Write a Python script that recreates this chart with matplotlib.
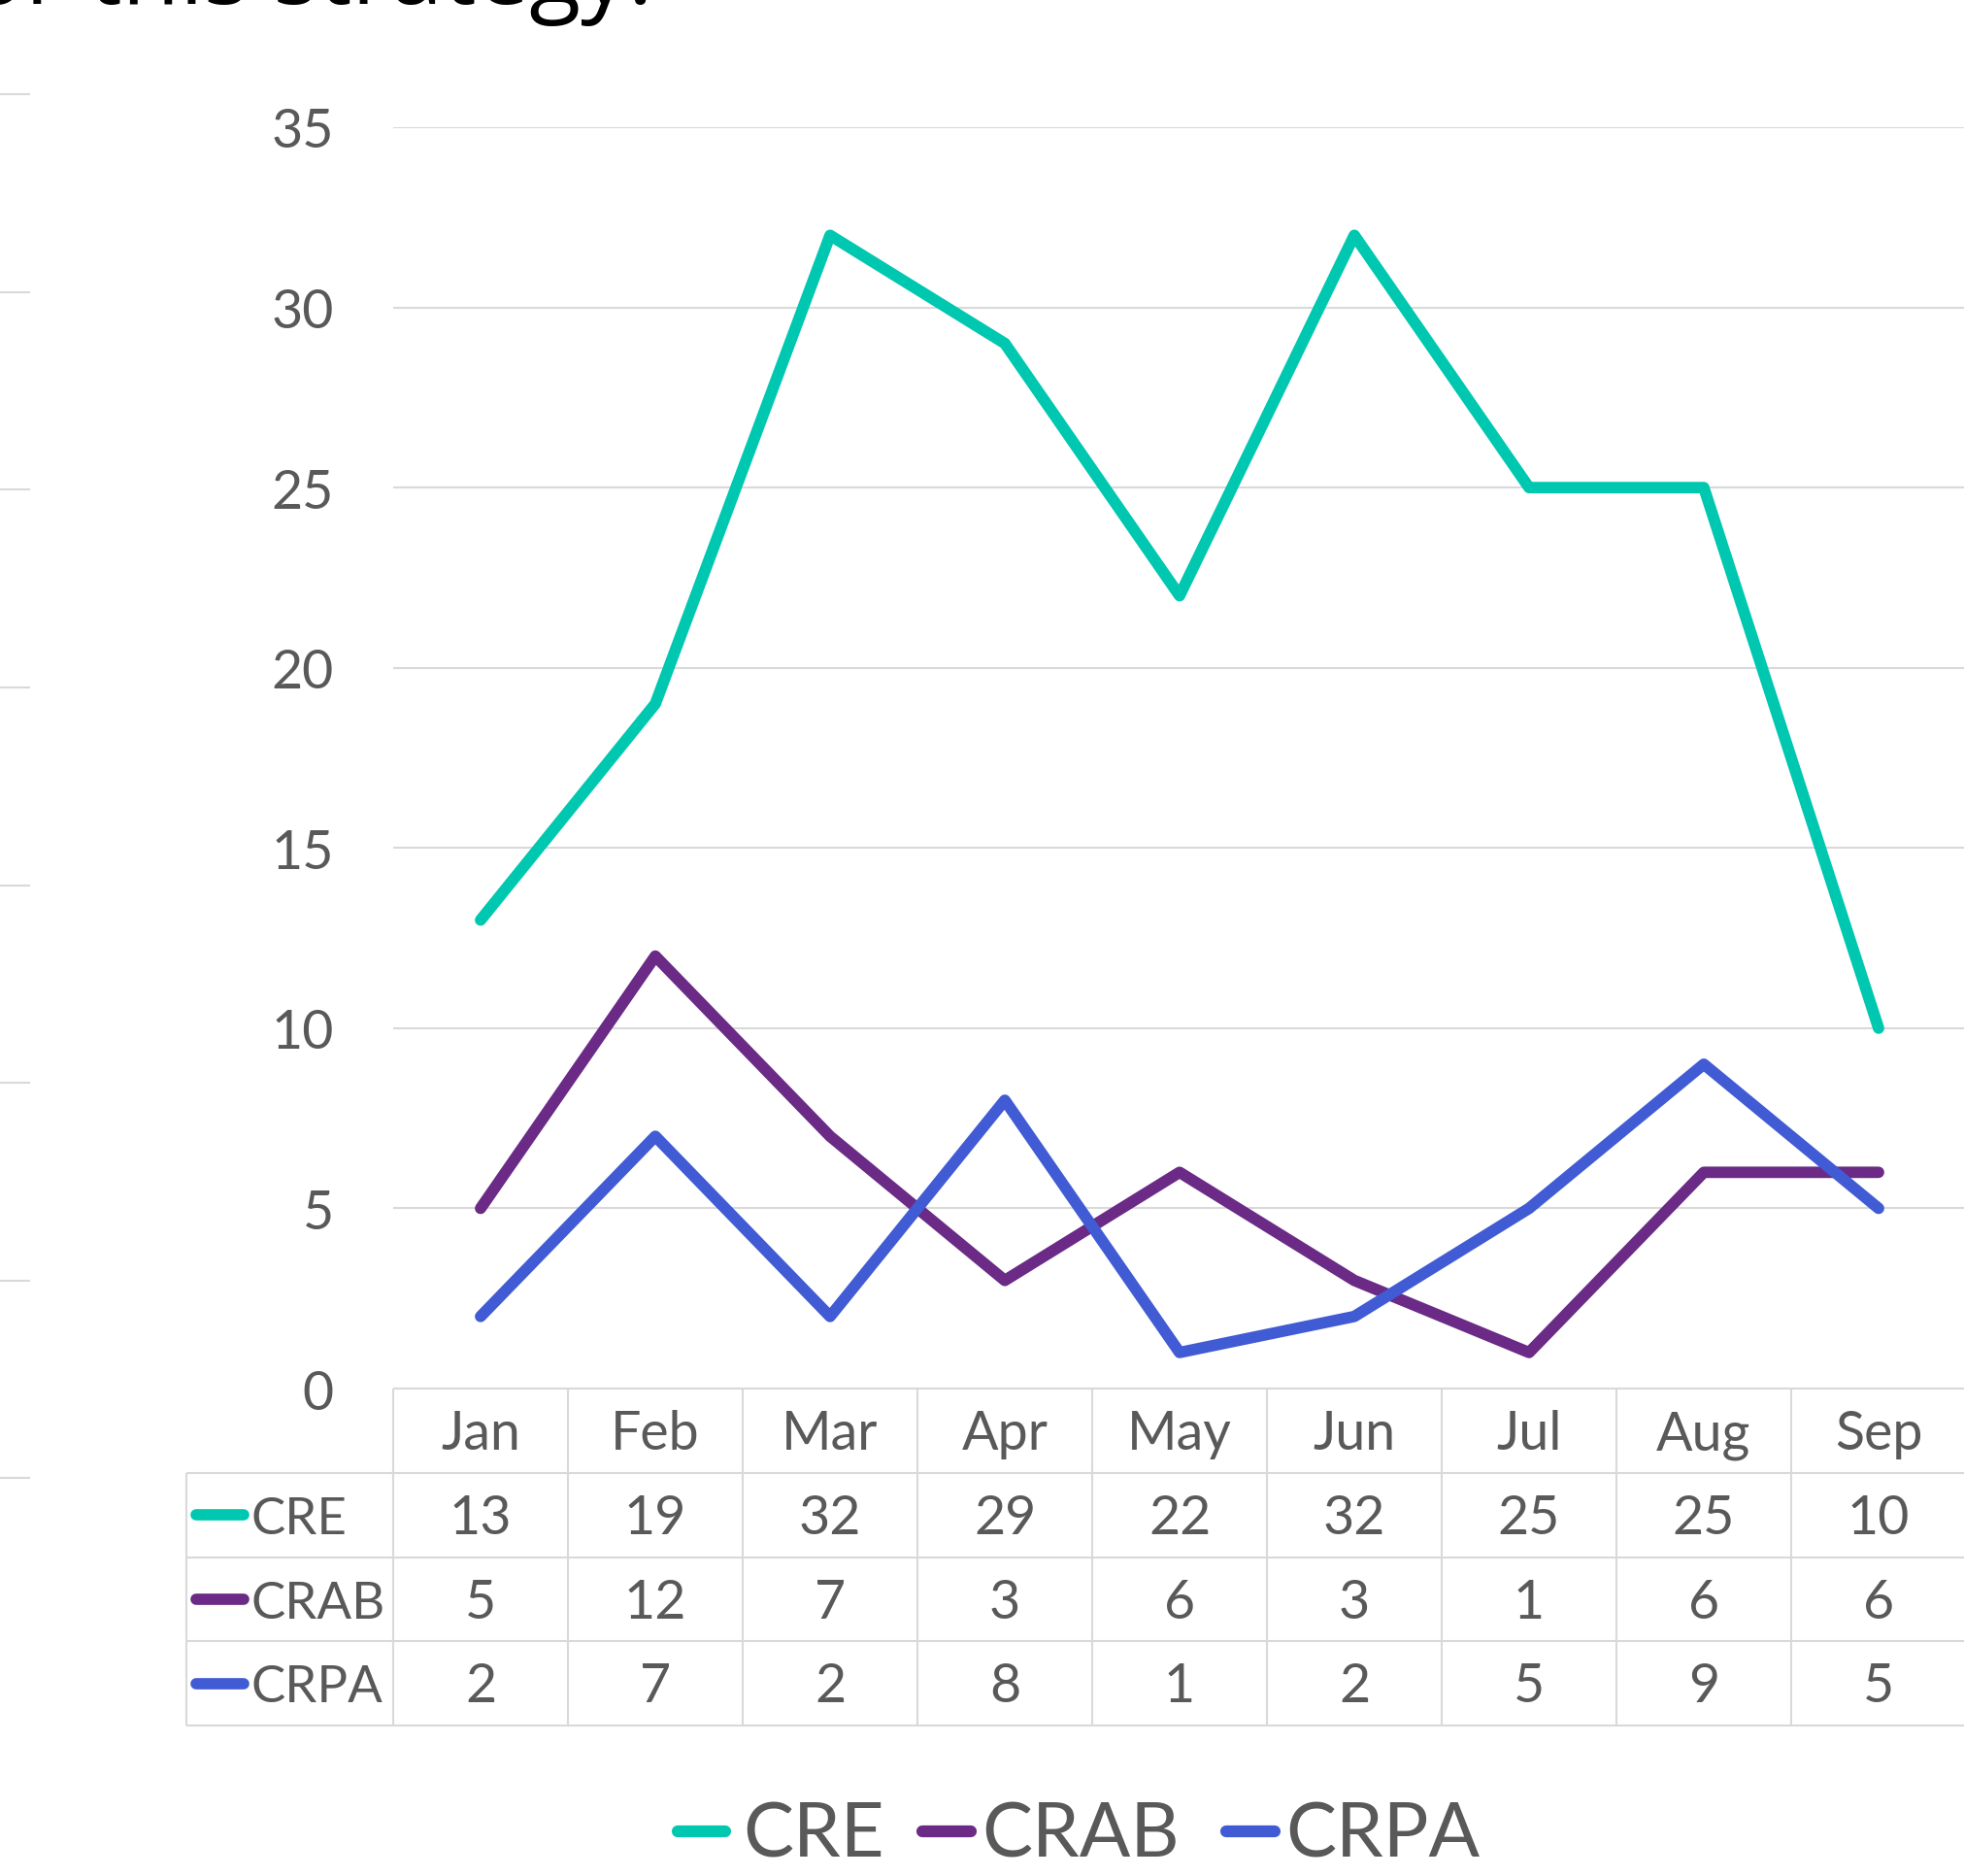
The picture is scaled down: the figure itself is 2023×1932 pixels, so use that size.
import matplotlib
matplotlib.use('Agg')
import matplotlib.pyplot as plt
from matplotlib.lines import Line2D

# ---------------- data ----------------
months = ['Jan', 'Feb', 'Mar', 'Apr', 'May', 'Jun', 'Jul', 'Aug', 'Sep']
cre = [13, 19, 32, 29, 22, 32, 25, 25, 10]
crab = [5, 12, 7, 3, 6, 3, 1, 6, 6]
crpa = [2, 7, 2, 8, 1, 2, 5, 9, 5]
series_names = ['CRE', 'CRAB', 'CRPA']
y_ticks = [0, 5, 10, 15, 20, 25, 30, 35]
title_text = 'for this strategy.'

# ---------------- style ----------------
colors = ['#00C8B0', '#6A2A86', '#405BD4']
text_color = '#595959'
grid_color = '#D9D9D9'
plt.rcParams['font.family'] = ['Lato', 'DejaVu Sans']

W, H, DPI = 2023, 1933, 100
fig = plt.figure(figsize=(W / DPI, H / DPI), dpi=DPI)
fig.patch.set_facecolor('white')

FS = 40        # table / tick text
FS_LAB = 38    # row labels in table
FS_LEG = 56    # legend


def fx(px):
    return px / W


def fy(py):
    return 1 - py / H


series = [cre, crab, crpa]

# ---------------- main plot ----------------
ax = fig.add_axes([fx(405), fy(1431), (2025 - 405) / W, (1431 - 132) / H])
xs = list(range(len(months)))
for vals, c in zip(series, colors):
    ax.plot(xs, vals, color=c, lw=8.5, solid_joinstyle='round',
            solid_capstyle='round', zorder=3)
ax.set_xlim(-0.5, len(months) - 0.5)
ax.set_ylim(0, 35)
ax.set_yticks(y_ticks)
ax.set_xticks([])
ax.yaxis.grid(True, color=grid_color, lw=1.5, zorder=0)
ax.set_axisbelow(True)
for s in ax.spines.values():
    s.set_visible(False)
ax.tick_params(axis='y', length=0, pad=44, labelsize=FS, labelcolor=text_color)
ax.patch.set_alpha(0)

# ---------------- data table ----------------
label_w = 213 / 180.0
tax = fig.add_axes([fx(192), fy(1778), (2025 - 192) / W, (1778 - 1431) / H])
left = -0.5 - label_w
tax.set_xlim(left, len(months) - 0.5)
tax.set_ylim(len(series) + 1, 0)
tax.axis('off')
lkw = dict(color=grid_color, lw=1.5, clip_on=False, solid_capstyle='butt')
tax.plot([-0.5, len(months) - 0.5], [0, 0], **lkw)
for r in range(1, len(series) + 2):
    tax.plot([left, len(months) - 0.5], [r, r], **lkw)
tax.plot([left, left], [1, len(series) + 1], **lkw)
for c in range(len(months) + 1):
    tax.plot([c - 0.5, c - 0.5], [0, len(series) + 1], **lkw)

base_off = 0.717
for i, m in enumerate(months):
    tax.text(i, base_off, m, ha='center', va='baseline', fontsize=FS,
             color=text_color)
for r, (name, vals, c) in enumerate(zip(series_names, series, colors)):
    row = r + 1
    for i, v in enumerate(vals):
        tax.text(i, row + base_off, str(v), ha='center', va='baseline',
                 fontsize=FS, color=text_color)
    k0 = left + (202 - 192) / 180.0
    k1 = left + (251 - 192) / 180.0
    tax.plot([k0, k1], [row + 0.5, row + 0.5], color=c, lw=8.4,
             solid_capstyle='round', clip_on=False)
    tax.text(left + (259 - 192) / 180.0, row + base_off, name, ha='left',
             va='baseline', fontsize=FS_LAB, color=text_color)

# ---------------- legend ----------------
leg_keys = [(698, 747, 765), (950, 1000, 1011), (1263, 1313, 1324)]
for (k0, k1, tx), name, c in zip(leg_keys, series_names, colors):
    fig.add_artist(Line2D([fx(k0), fx(k1)], [fy(1887), fy(1887)], color=c,
                          lw=8.8, solid_capstyle='round'))
    fig.text(fx(tx), fy(1913), name, ha='left', va='baseline', fontsize=FS_LEG,
             color=text_color)

# ---------------- cropped decorations ----------------
fig.text(fx(672), fy(4), title_text, ha='right', va='baseline',
         fontsize=70, color='black', family=['Open Sans', 'DejaVu Sans'])
for yy in [98, 302, 505, 709, 913, 1116, 1320, 1523]:
    fig.add_artist(Line2D([0, fx(30)], [fy(yy), fy(yy)], color=grid_color, lw=1.5))

fig.savefig('out.png', dpi=DPI, facecolor='white')
